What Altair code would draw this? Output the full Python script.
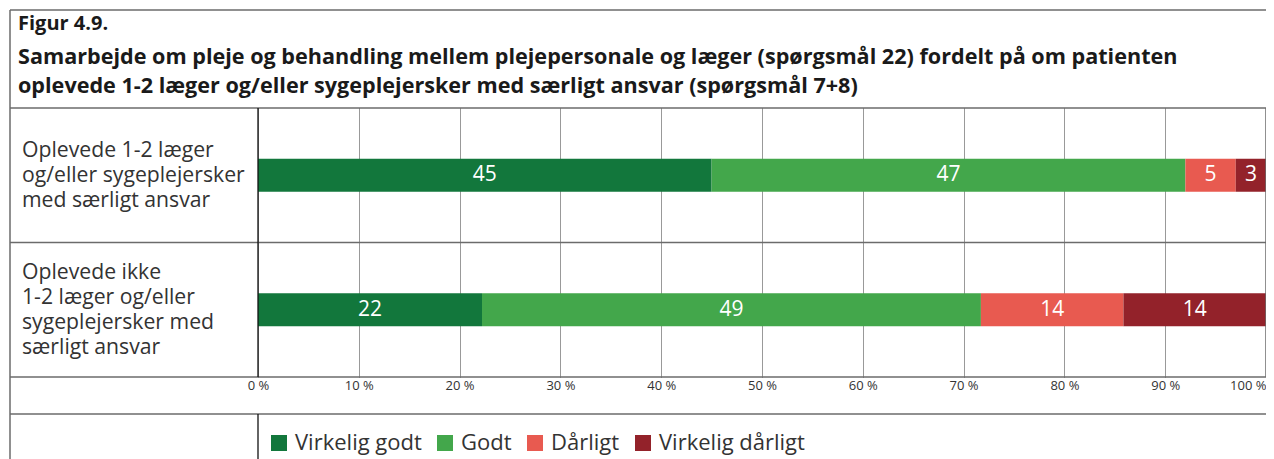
import altair as alt
import pandas as pd

# ---- data ----
categories = ["Virkelig godt", "Godt", "Dårligt", "Virkelig dårligt"]
colors = ["#12773c", "#43a74b", "#e85a50", "#93222a"]
row_keys = ["r1", "r2"]
row_labels = [
    "Oplevede 1-2 læger\nog/eller sygeplejersker\nmed særligt ansvar",
    "Oplevede ikke\n1-2 læger og/eller\nsygeplejersker med\nsærligt ansvar",
]
values_r1 = [45, 47, 5, 3]
values_r2 = [22, 49, 14, 14]
x_ticks = [0, 0.1, 0.2, 0.3, 0.4, 0.5, 0.6, 0.7, 0.8, 0.9, 1.0]
title_lines = [
    "Figur 4.9.",
    "Samarbejde om pleje og behandling mellem plejepersonale og læger (spørgsmål 22) fordelt på om patienten",
    "oplevede 1-2 læger og/eller sygeplejersker med særligt ansvar (spørgsmål 7+8)",
]

records = []
for rk, vals in zip(row_keys, [values_r1, values_r2]):
    for i, (c, v) in enumerate(zip(categories, vals)):
        records.append({"row": rk, "cat": c, "order": i, "value": v})
df = pd.DataFrame(records)

FONT = "Open Sans"
W, H = 1008, 269
LINE = "#6b6b6b"
LH = 25

base = alt.Chart(df).transform_stack(
    stack="value", groupby=["row"], as_=["x0", "x1"], offset="normalize",
    sort=[alt.SortField("order", order="ascending")]
).transform_calculate(mid="(datum.x0 + datum.x1) / 2")

yenc = alt.Y("row:N", sort=row_keys, axis=None,
             scale=alt.Scale(domain=row_keys, paddingInner=0, paddingOuter=0))
xscale = alt.Scale(domain=[0, 1], nice=False, zero=True)

bars = base.mark_bar(size=33).encode(
    x=alt.X("x0:Q", scale=xscale, title=None,
            axis=alt.Axis(values=x_ticks, grid=True, gridDash=[1, 1], gridColor="#333",
                          gridWidth=1, domain=False, ticks=False,
                          labelExpr="format(datum.value * 100, 'd') + ' %'",
                          labelAlign={"condition": {"test": "datum.value >= 1", "value": "right"},
                                      "value": "center"},
                          labelFontSize=13, labelColor="#333", labelFont=FONT,
                          labelPadding=2, labelFlush=False, labelOverlap=False,
                          labelBound=False)),
    x2="x1:Q",
    y=yenc,
    color=alt.Color("cat:N", scale=alt.Scale(domain=categories, range=colors),
                    legend=alt.Legend(title=None, orient="none", legendX=10, legendY=324,
                                      direction="horizontal", symbolType="square",
                                      symbolSize=256, symbolStrokeWidth=0,
                                      labelFontSize=22, labelFont=FONT, labelColor="#333",
                                      labelOffset=5, columnPadding=12)),
    order=alt.Order("order:Q"),
)

labels = base.mark_text(color="white", fontSize=21, font=FONT, baseline="middle").encode(
    x=alt.X("mid:Q", scale=xscale),
    y=yenc,
    text=alt.Text("value:Q"),
)

row_df = pd.DataFrame({"row": row_keys, "label": row_labels})
row_texts = []
for rk, lab in zip(row_keys, row_labels):
    n = lab.count("\n") + 1
    row_texts.append(
        alt.Chart(row_df).transform_filter(alt.datum.row == rk).mark_text(
            align="left", baseline="middle", lineBreak="\n", lineHeight=LH,
            fontSize=21.2, font=FONT, color="#333", dy=-(n - 1) * LH / 2 + 1
        ).encode(y=yenc, x=alt.value(-236), text="label:N")
    )

dummy = pd.DataFrame({"a": [0]})


def rule(x, x2, y, y2, color=LINE, width=1.5):
    return alt.Chart(dummy).mark_rule(color=color, strokeWidth=width).encode(
        x=alt.value(x), x2=alt.value(x2), y=alt.value(y), y2=alt.value(y2))


frame = [
    rule(-248, 1016, -98, -98),     # top frame
    rule(-248, -248, -98, 355),     # left frame
    rule(-248, 1016, 0, 0),         # under title
    rule(-248, W, H / 2, H / 2),    # row separator
    rule(-248, 1016, H, H),         # plot bottom
    rule(-248, 1016, 306, 306),     # under axis labels
    rule(0, 0, 0, H, color="#111", width=1.3),
    rule(0, 0, 306, 355, color="#111", width=1.3),
    rule(W, W, 0, H, color=LINE, width=1.5),
]

title_specs = [(title_lines[0], -78, 20), (title_lines[1], -44, 21.6), (title_lines[2], -15, 21.6)]
titles = [
    alt.Chart(pd.DataFrame({"t": [t]})).mark_text(
        align="left", baseline="alphabetic", fontSize=fs, fontWeight="bold",
        font=FONT, color="#1a1a1a"
    ).encode(text="t:N", x=alt.value(-240), y=alt.value(yy))
    for t, yy, fs in title_specs
]

chart = alt.layer(bars, labels, *row_texts, *frame, *titles).properties(
    width=W, height=H,
    autosize=alt.AutoSizeParams(type="none"),
    padding={"left": 250, "top": 100, "right": 0, "bottom": 82},
).configure_view(stroke=None)

chart.save("out.html", embed_options={"renderer": "svg", "actions": False})
